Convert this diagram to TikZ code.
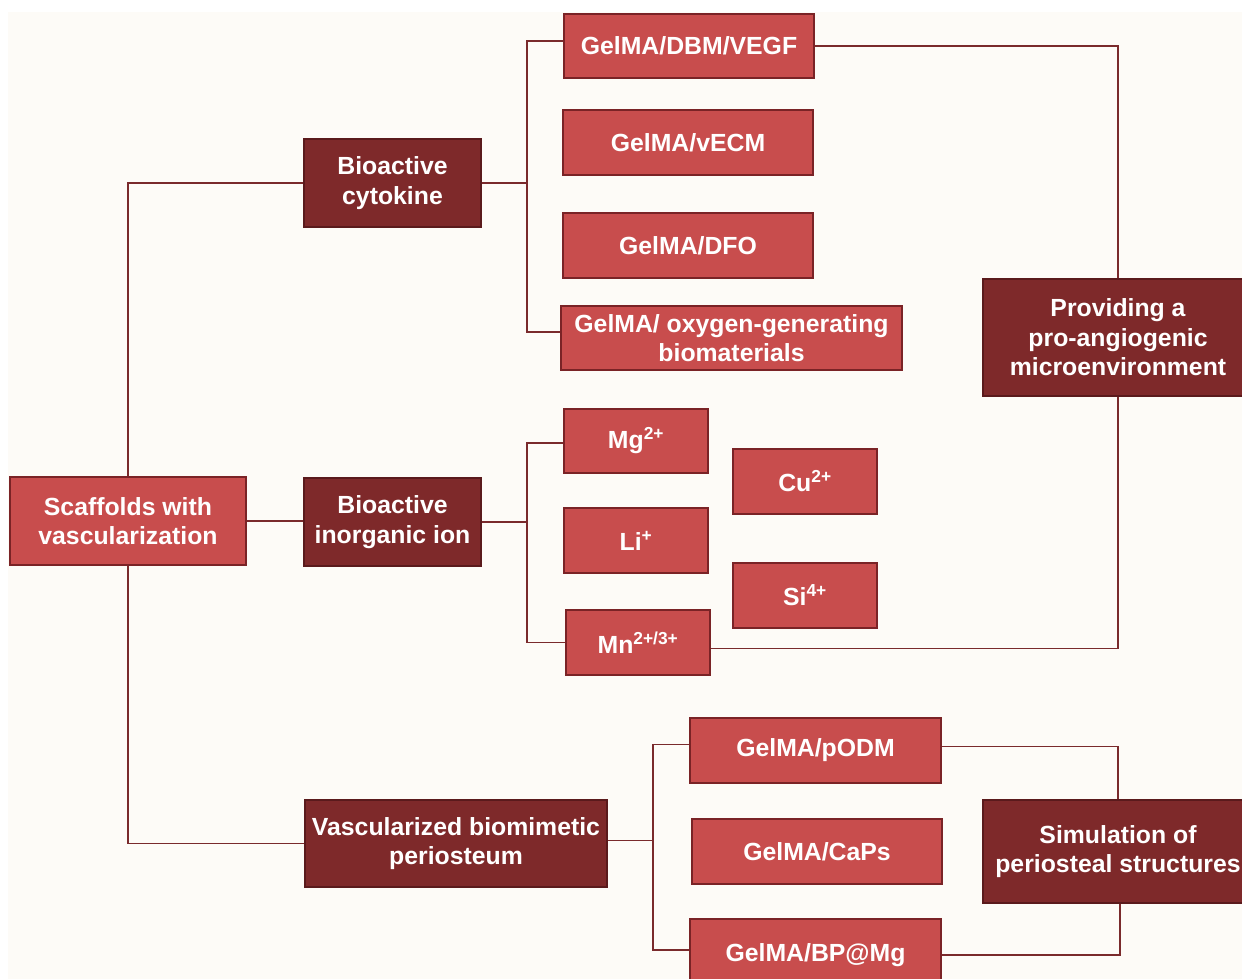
\documentclass[tikz,border=0pt]{standalone}
\usepackage{fontspec}
\setmainfont{Liberation Sans}
\definecolor{paper}{HTML}{FDFBF7}
\definecolor{lightred}{HTML}{C84D4D}
\definecolor{darkred}{HTML}{7E292A}
\definecolor{boxedge}{HTML}{7A2326}
\definecolor{darkedge}{HTML}{5A1A1C}
\definecolor{linkred}{HTML}{7A2A2C}
\begin{document}
\begin{tikzpicture}[x=1pt,y=-1pt,
  light/.style={draw=boxedge, fill=lightred, line width=1.5pt, text=white,
    font=\bfseries\fontsize{24.8}{29.5}\selectfont, align=center, inner sep=0pt},
  dark/.style={light, fill=darkred, draw=darkedge},
  link/.style={draw=linkred, line width=1.6pt}]
\useasboundingbox (0,0) rectangle (1242,979);
\clip (0,0) rectangle (1242,979);
\fill[paper] (8,12) rectangle (1242,979);

% left column
\node[light, minimum width=236pt, minimum height=88pt] (scaf) at (128,521) {Scaffolds with\\vascularization};
% middle column
\node[dark, minimum width=177pt, minimum height=88pt] (cyto) at (392.5,183) {Bioactive\\cytokine};
\node[dark, minimum width=177pt, minimum height=88pt] (ion) at (392.5,522) {Bioactive\\inorganic ion};
\node[dark, minimum width=302pt, minimum height=87pt] (peri) at (456,843.5) {Vascularized biomimetic\\periosteum};
% cytokine group
\node[light, minimum width=250pt, minimum height=64pt] (dbm) at (689,46) {GelMA/DBM/VEGF};
\node[light, minimum width=250pt, minimum height=65pt] (vecm) at (688,142.5) {GelMA/vECM};
\node[light, minimum width=250pt, minimum height=65pt] (dfo) at (688,245.5) {GelMA/DFO};
\node[light, minimum width=341pt, minimum height=64pt] (oxy) at (731.5,338) {GelMA/ oxygen-generating\\biomaterials};
% ion group
\node[light, minimum width=144pt, minimum height=64pt] (mg) at (636,441) {Mg\textsuperscript{2+}};
\node[light, minimum width=144pt, minimum height=65pt] (cu) at (805,481.5) {Cu\textsuperscript{2+}};
\node[light, minimum width=144pt, minimum height=65pt] (li) at (636,540.5) {Li\textsuperscript{+}};
\node[light, minimum width=144pt, minimum height=65pt] (si) at (805,595.5) {Si\textsuperscript{4+}};
\node[light, minimum width=144pt, minimum height=65pt] (mn) at (638,642.5) {Mn\textsuperscript{2+/3+}};
% periosteum group
\node[light, minimum width=251pt, minimum height=65pt] (podm) at (815.5,750.5) {GelMA/pODM};
\node[light, minimum width=250pt, minimum height=65pt] (caps) at (817,851.5) {GelMA/CaPs};
\node[light, minimum width=251pt, minimum height=72pt] (bpmg) at (815.5,955) {GelMA/BP@Mg};
% right column
\node[dark, minimum width=270pt, minimum height=117pt] (prov) at (1118,337.5) {Providing a\\pro-angiogenic\\microenvironment};
\node[dark, minimum width=270pt, minimum height=103pt] (sim) at (1118,851.5) {Simulation of\\periosteal structures};

% trunk connectors
\draw[link] (scaf.north) |- (cyto.west);
\draw[link] (scaf.east) -- (scaf.east -| ion.west);
\draw[link] (scaf.south) |- (peri.west);

% cytokine branches
\coordinate (cbus) at ([xshift=45pt]cyto.east);
\draw[link] (cyto.east) -- (cbus);
\draw[link] ([yshift=5pt]dbm.west) -| (cbus) |- ([yshift=6pt]oxy.west);

% ion branches
\coordinate (ibus) at ([xshift=45pt]ion.east);
\draw[link] (ion.east) -- (ibus);
\draw[link] ([yshift=-2pt]mg.west) -| (ibus) |- (mn.west);

% periosteum branches
\coordinate (pbus) at ([xshift=45pt]peri.east);
\draw[link] ([yshift=3pt]peri.east) -- ([yshift=3pt]pbus);
\draw[link] ([yshift=6pt]podm.west) -| (pbus) |- ([yshift=5pt]bpmg.west);

% links to the outcome boxes
\draw[link] (dbm.east) -| (prov.north);
\draw[link] ([yshift=-6pt]mn.east) -| (prov.south);
\draw[link] ([yshift=4pt]podm.east) -| (sim.north);
\draw[link] (bpmg.east) -| ([xshift=2pt]sim.south);
\end{tikzpicture}
\end{document}
